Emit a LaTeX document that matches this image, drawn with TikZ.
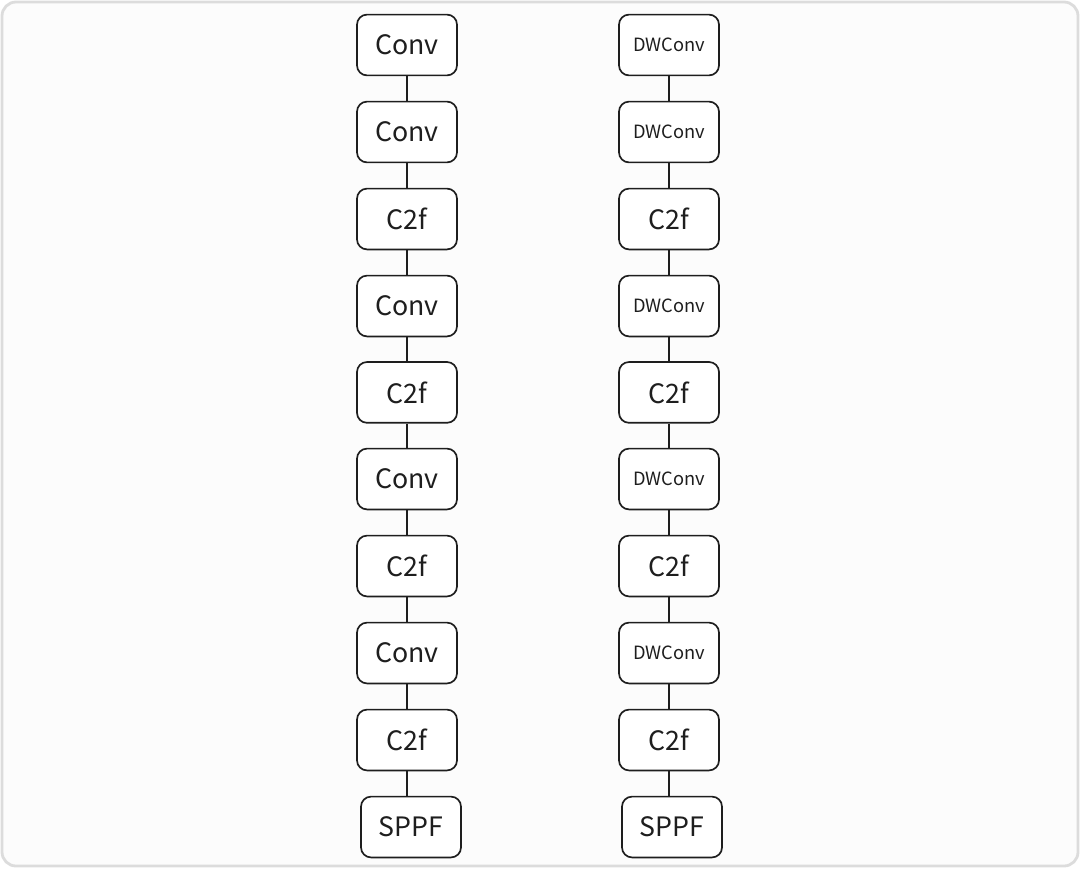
\documentclass[tikz,border=0pt]{standalone}
\usepackage{fontspec}
\setmainfont{Noto Sans CJK SC}
\definecolor{frame-gray}{HTML}{DCDCDC}
\definecolor{paper}{HTML}{FCFCFC}
\definecolor{jet}{HTML}{1E1E1E}

\begin{document}
\begin{tikzpicture}[every node/.style={font=\fontsize{19}{22}\selectfont},
    layer/.style={draw=jet, line width=1.2pt, fill=white, rounded corners=0.25cm,
      minimum width=2.5cm, minimum height=1.52cm, align=center, text=jet},
    small/.style={font=\fontsize{13}{16}\selectfont},
    link/.style={draw=jet, line width=0.9pt}]
    \useasboundingbox (0, 0) rectangle (27, -21.7);
    \draw[frame-gray, fill=paper, line width=2pt, rounded corners=0.35cm]
      (0.05, -0.05) rectangle (26.95, -21.65);
    % backbone, left column
    \node[layer] (L1) at (10.175, -1.125) {Conv};
    \node[layer] (L2) at (10.175, -3.3) {Conv};
    \node[layer] (L3) at (10.175, -5.475) {C2f};
    \node[layer] (L4) at (10.175, -7.65) {Conv};
    \node[layer] (L5) at (10.175, -9.81) {C2f};
    \node[layer] (L6) at (10.175, -11.975) {Conv};
    \node[layer] (L7) at (10.175, -14.15) {C2f};
    \node[layer] (L8) at (10.175, -16.325) {Conv};
    \node[layer] (L9) at (10.175, -18.5) {C2f};
    \node[layer] (L10) at (10.275, -20.675) {SPPF};
    % backbone, right column
    \node[layer, small] (R1) at (16.725, -1.125) {DWConv};
    \node[layer, small] (R2) at (16.725, -3.3) {DWConv};
    \node[layer] (R3) at (16.725, -5.475) {C2f};
    \node[layer, small] (R4) at (16.725, -7.65) {DWConv};
    \node[layer] (R5) at (16.725, -9.81) {C2f};
    \node[layer, small] (R6) at (16.725, -11.975) {DWConv};
    \node[layer] (R7) at (16.725, -14.15) {C2f};
    \node[layer, small] (R8) at (16.725, -16.325) {DWConv};
    \node[layer] (R9) at (16.725, -18.5) {C2f};
    \node[layer] (R10) at (16.8, -20.675) {SPPF};
    \draw[link] (L1.south) -- (L2.north);
    \draw[link] (L2.south) -- (L3.north);
    \draw[link] (L3.south) -- (L4.north);
    \draw[link] (L4.south) -- (L5.north);
    \draw[link] (L5.south) -- (L6.north);
    \draw[link] (L6.south) -- (L7.north);
    \draw[link] (L7.south) -- (L8.north);
    \draw[link] (L8.south) -- (L9.north);
    \draw[link] (L9.south) -- (L9.south |- L10.north);
    \draw[link] (R1.south) -- (R2.north);
    \draw[link] (R2.south) -- (R3.north);
    \draw[link] (R3.south) -- (R4.north);
    \draw[link] (R4.south) -- (R5.north);
    \draw[link] (R5.south) -- (R6.north);
    \draw[link] (R6.south) -- (R7.north);
    \draw[link] (R7.south) -- (R8.north);
    \draw[link] (R8.south) -- (R9.north);
    \draw[link] (R9.south) -- (R9.south |- R10.north);
  \end{tikzpicture}
\end{document}
